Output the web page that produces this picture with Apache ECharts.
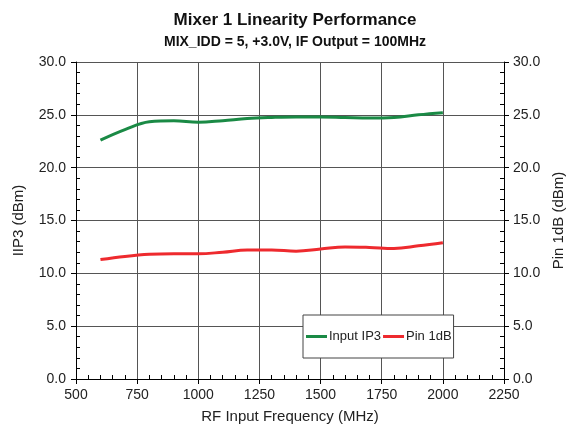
<!DOCTYPE html>
<html><head><meta charset="utf-8">
<script src="https://cdn.jsdelivr.net/npm/echarts@6/dist/echarts.min.js"></script>
<style>html,body{margin:0;padding:0;background:#fff}#c{width:567px;height:427px}</style>
</head><body><div id="c"></div>
<script>
const freqs = [600,700,800,900,1000,1100,1200,1300,1400,1500,1600,1700,1800,1900,2000];
const inputIP3 = [22.6,23.6,24.35,24.45,24.3,24.45,24.65,24.75,24.8,24.8,24.75,24.7,24.75,25.0,25.2];
const pin1dB = [11.3,11.6,11.8,11.85,11.85,12.0,12.2,12.2,12.1,12.3,12.5,12.45,12.35,12.6,12.9];
const titleText = 'Mixer 1 Linearity Performance';
const subtitleText = 'MIX_IDD = 5, +3.0V, IF Output = 100MHz';

const FONT = '"Liberation Sans", Arial, sans-serif';
const chart = echarts.init(document.getElementById('c'));
const grid = {left:76, right:63, top:62, bottom:48, containLabel:false, outerBoundsMode:'none'};
const axLab = {fontFamily:FONT, fontSize:14, color:'#222'};
function yAx(pos, name) {
  return {
    type:'value', position:pos, min:0, max:30, interval:5,
    name:name, nameLocation:'middle', nameRotate:90, nameGap:pos==='left'?50:45,
    nameTextStyle:{fontFamily:FONT, fontSize:15, color:'#222'},
    axisLine:{show:true, lineStyle:{color:'#000', width:1}},
    axisTick:{show:true, inside:false, length:5, lineStyle:{color:'#000'}},
    minorTick:{show:false},
    splitLine:{show:pos==='left', lineStyle:{color:'#555', width:1}},
    axisLabel:{formatter:v=>v.toFixed(1), margin:pos==='left'?10:9, ...axLab}
  };
}
function yOverlay(pos) {
  return {
    type:'value', position:pos, min:0, max:30, interval:5,
    axisLine:{show:false}, axisTick:{show:false, inside:true, length:5},
    minorTick:{show:true, splitNumber:5, length:4, lineStyle:{color:'#000'}},
    splitLine:{show:false}, axisLabel:{show:false}
  };
}
chart.setOption({
  animation:false,
  title:[
    {text:titleText, left:290, textAlign:'center', top:7,
     textStyle:{fontFamily:FONT, fontSize:17, fontWeight:'bold', color:'#111'}},
    {text:subtitleText, left:290, textAlign:'center', top:30,
     textStyle:{fontFamily:FONT, fontSize:14, fontWeight:'bold', color:'#111'}}
  ],
  grid:grid,
  legend:{
    left:303, top:315, orient:'horizontal',
    padding:[15,2,15,3], itemGap:2, itemWidth:21, itemHeight:3,
    borderColor:'#444', borderWidth:1, backgroundColor:'#fff',
    textStyle:{fontFamily:FONT, fontSize:13, color:'#222', padding:[0,0,0,-3]},
    data:[{name:'Input IP3', icon:'rect'},{name:'Pin 1dB', icon:'rect'}]
  },
  xAxis:[{
    type:'value', min:500, max:2250, interval:250,
    name:'RF Input Frequency (MHz)', nameLocation:'middle', nameGap:30,
    nameTextStyle:{fontFamily:FONT, fontSize:15, color:'#222'},
    axisLine:{show:true, onZero:false, lineStyle:{color:'#000'}},
    axisTick:{show:true, inside:false, length:5, lineStyle:{color:'#000'}},
    minorTick:{show:false},
    splitLine:{show:true, lineStyle:{color:'#555', width:1}},
    axisLabel:{margin:9, formatter:v=>String(v), ...axLab}
  },{
    type:'value', position:'bottom', min:500, max:2250, interval:250,
    axisLine:{show:false}, axisTick:{show:false, inside:true, length:5},
    minorTick:{show:true, splitNumber:5, length:4, lineStyle:{color:'#000'}},
    axisLabel:{show:false}, splitLine:{show:false}
  },{
    type:'value', position:'top', min:500, max:2250, interval:250,
    axisLine:{show:true, lineStyle:{color:'#000'}}, axisTick:{show:false}, axisLabel:{show:false}, splitLine:{show:false}
  }],
  yAxis:[yAx('left','IIP3 (dBm)'), yAx('right','Pin 1dB (dBm)'), yOverlay('left'), yOverlay('right')],
  series:[
    {name:'Input IP3', type:'line', smooth:0.4, showSymbol:false, color:'#1a8a45',
     lineStyle:{width:3, color:'#1a8a45'}, data:freqs.map((f,i)=>[f,inputIP3[i]])},
    {name:'Pin 1dB', type:'line', smooth:0.4, showSymbol:false, color:'#ee2a2e',
     lineStyle:{width:3, color:'#ee2a2e'}, data:freqs.map((f,i)=>[f,pin1dB[i]])}
  ]
});
</script></body></html>
